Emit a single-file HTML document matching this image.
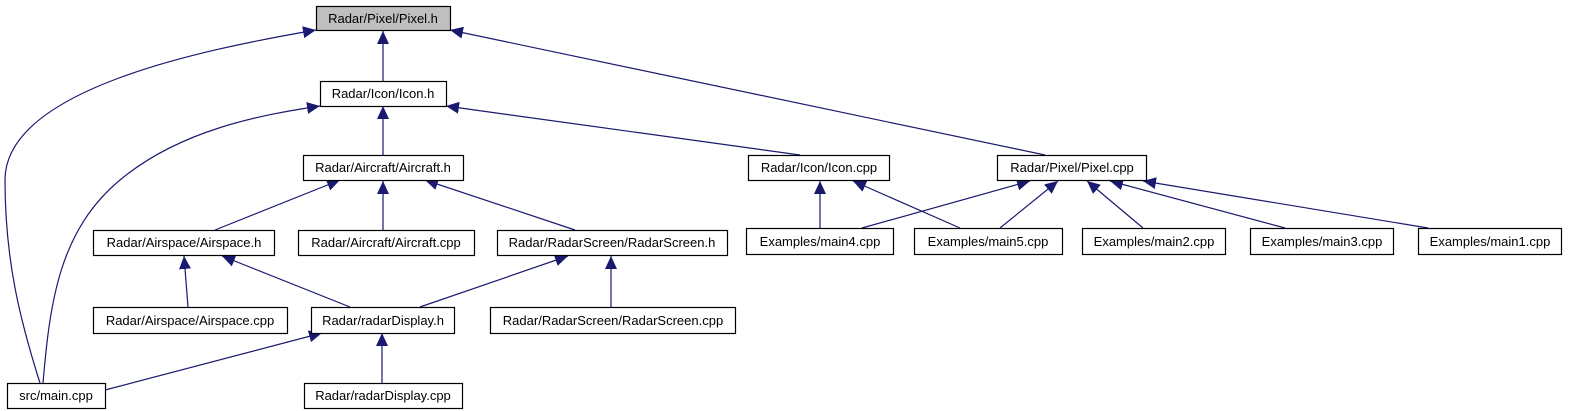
<!DOCTYPE html>
<html><head><meta charset="utf-8"><style>
html,body{margin:0;padding:0;background:#fff;}
svg{display:block;}
text{font-family:"Liberation Sans",Arial,sans-serif;font-size:13px;fill:#000;}
</style></head><body>
<svg width="1569" height="411" viewBox="0 0 1569 411" xmlns="http://www.w3.org/2000/svg">
<defs>
<marker id="a" markerUnits="userSpaceOnUse" markerWidth="14" markerHeight="12" refX="13" refY="6" orient="auto">
<path d="M0,0 L13,6 L0,12 z" fill="#191970"/>
</marker>
</defs>
<g fill="none" stroke="#191970" stroke-width="1.2" marker-end="url(#a)">
<path d="M40,383 C20,320 5,260 5,180 C5,90 200,50 316,30"/>
<path d="M43,383 C50,300 60,230 120,180 C180,130 260,115 320,106"/>
<path d="M383,81 L383,31"/>
<path d="M1045,155 L450,30"/>
<path d="M383,155 L383,106"/>
<path d="M800,155 L446,106"/>
<path d="M215,230 L340,180"/>
<path d="M383,230 L383,181"/>
<path d="M575,230 L425,180"/>
<path d="M188,307 L184,256"/>
<path d="M350,307 L222,256"/>
<path d="M420,307 L568,256"/>
<path d="M611,307 L611,256"/>
<path d="M105,390 L322,333"/>
<path d="M382,383 L382,333"/>
<path d="M820,228 L820,181"/>
<path d="M960,228 L853,181"/>
<path d="M862,228 L1030,181"/>
<path d="M1000,228 L1058,181"/>
<path d="M1143,228 L1087,181"/>
<path d="M1285,228 L1110,181"/>
<path d="M1428,228 L1143,181"/>
</g>
<g stroke="#000" stroke-width="1.2" fill="#fff">
<rect x="316.5" y="6.5" width="134" height="24" fill="#bfbfbf"/>
<rect x="320.5" y="81.5" width="126" height="25"/>
<rect x="303.5" y="155.5" width="160" height="25"/>
<rect x="748.5" y="155.5" width="141" height="25"/>
<rect x="997.5" y="155.5" width="149" height="25"/>
<rect x="93.5" y="230.5" width="181" height="25"/>
<rect x="298.5" y="230.5" width="176" height="25"/>
<rect x="497.5" y="230.5" width="230" height="25"/>
<rect x="746.5" y="228.5" width="147" height="26"/>
<rect x="914.5" y="228.5" width="148" height="26"/>
<rect x="1082.5" y="228.5" width="143" height="26"/>
<rect x="1250.5" y="228.5" width="143" height="26"/>
<rect x="1418.5" y="228.5" width="143" height="26"/>
<rect x="93.5" y="307.5" width="194" height="26"/>
<rect x="311.5" y="307.5" width="143" height="26"/>
<rect x="490.5" y="307.5" width="245" height="26"/>
<rect x="7.5" y="383.5" width="98" height="25"/>
<rect x="304.5" y="383.5" width="158" height="25"/>
</g>
<g text-anchor="middle">
<text x="383" y="23">Radar/Pixel/Pixel.h</text>
<text x="383" y="98">Radar/Icon/Icon.h</text>
<text x="383" y="172">Radar/Aircraft/Aircraft.h</text>
<text x="819" y="172">Radar/Icon/Icon.cpp</text>
<text x="1072" y="172">Radar/Pixel/Pixel.cpp</text>
<text x="184" y="247">Radar/Airspace/Airspace.h</text>
<text x="386" y="247">Radar/Aircraft/Aircraft.cpp</text>
<text x="612" y="247">Radar/RadarScreen/RadarScreen.h</text>
<text x="820" y="246">Examples/main4.cpp</text>
<text x="988" y="246">Examples/main5.cpp</text>
<text x="1154" y="246">Examples/main2.cpp</text>
<text x="1322" y="246">Examples/main3.cpp</text>
<text x="1490" y="246">Examples/main1.cpp</text>
<text x="190" y="325">Radar/Airspace/Airspace.cpp</text>
<text x="383" y="325">Radar/radarDisplay.h</text>
<text x="613" y="325">Radar/RadarScreen/RadarScreen.cpp</text>
<text x="56" y="400">src/main.cpp</text>
<text x="383" y="400">Radar/radarDisplay.cpp</text>
</g>
</svg>
</body></html>
